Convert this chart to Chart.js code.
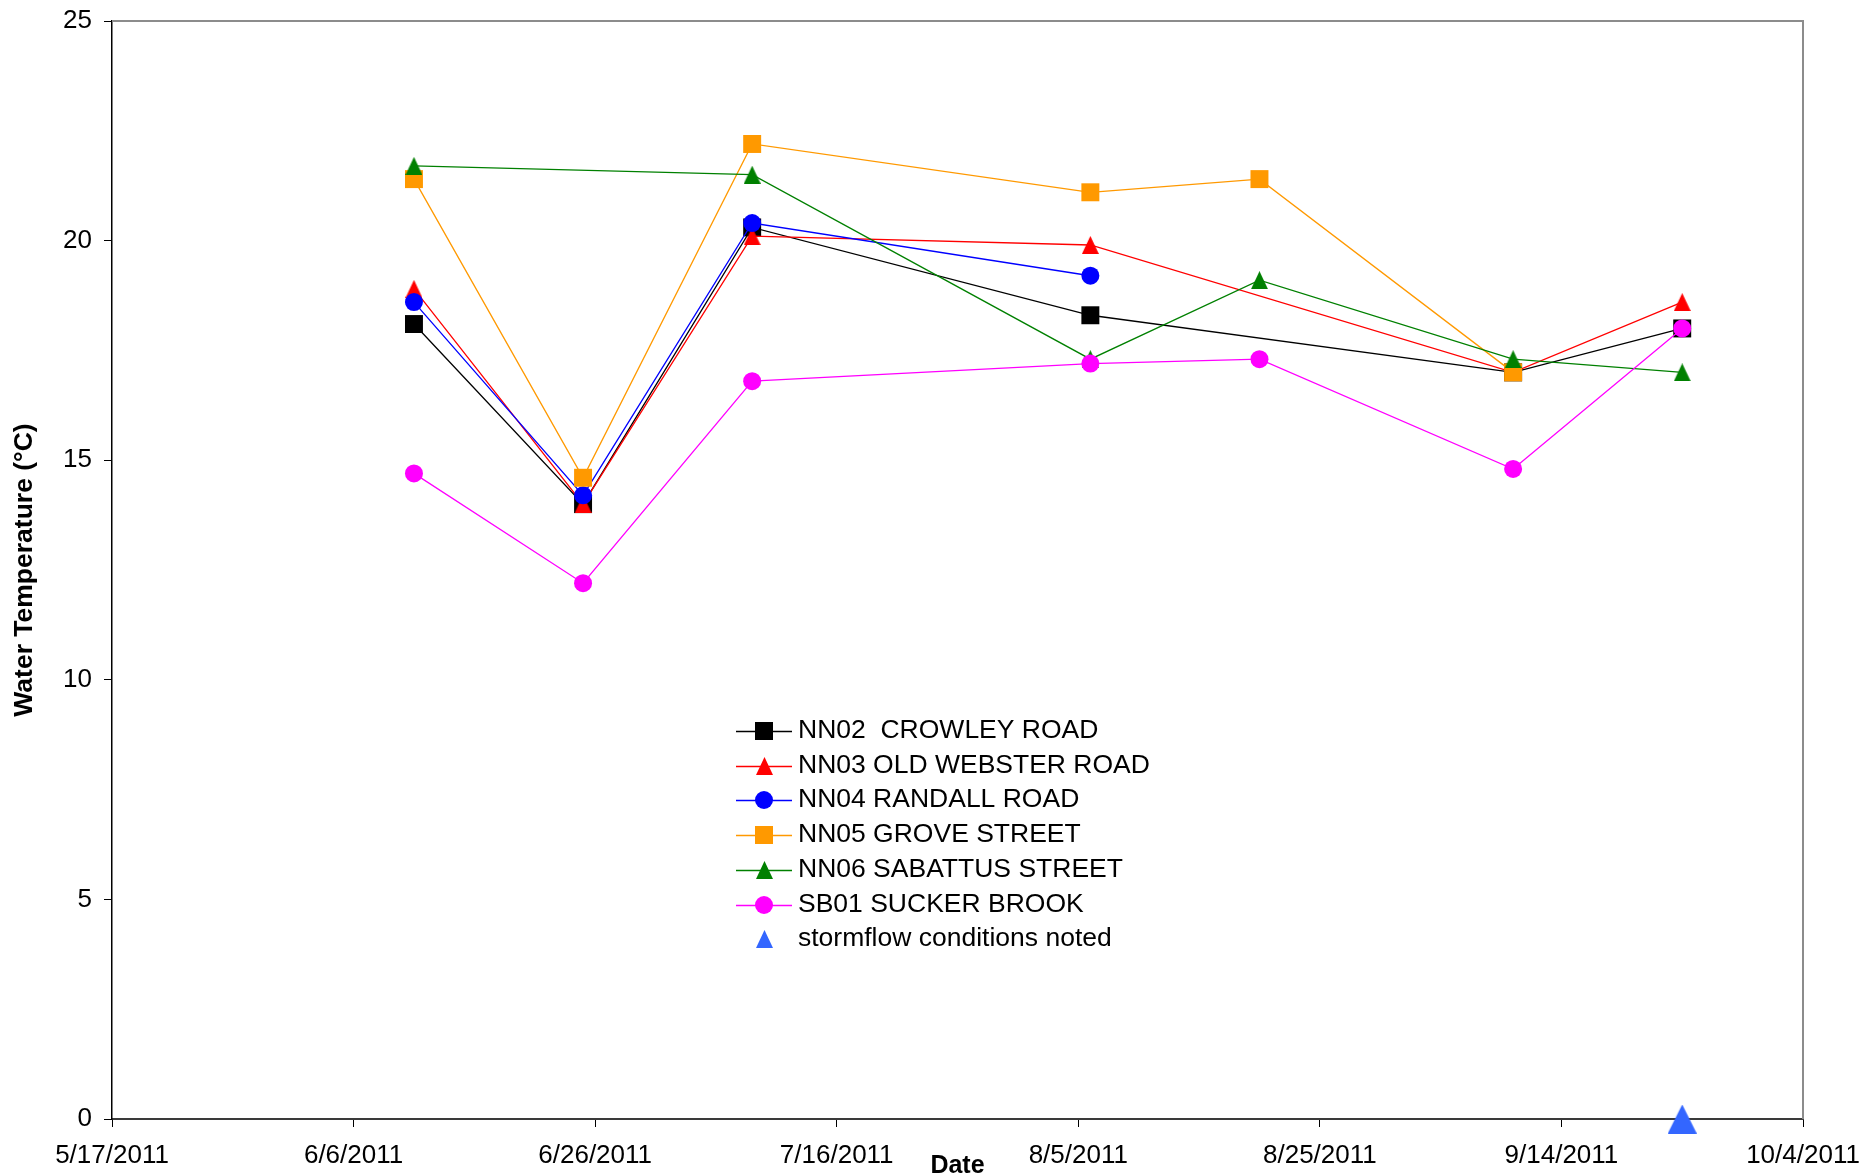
<!DOCTYPE html>
<html>
<head>
<meta charset="utf-8">
<title>Water Temperature 2011</title>
<script src="https://cdn.jsdelivr.net/npm/chart.js@4.4.1/dist/chart.umd.min.js"></script>
<style>
  html, body { margin: 0; padding: 0; background: #ffffff; }
  #wrap { width: 1866px; height: 1176px; }
</style>
</head>
<body>
<div id="wrap"><canvas id="c" width="1866" height="1176"></canvas></div>
<script>
// ---- data ----
const startDate = '5/17/2011';
const sampleDates = ['6/11/2011', '6/25/2011', '7/9/2011', '8/6/2011', '8/20/2011', '9/10/2011', '9/24/2011'];
const xTickLabels = ['5/17/2011', '6/6/2011', '6/26/2011', '7/16/2011', '8/5/2011', '8/25/2011', '9/14/2011', '10/4/2011'];

const nn02 = [18.1, 14.0, 20.3, 18.3, null, 17.0, 18.0];
const nn03 = [18.9, 14.0, 20.1, 19.9, null, 17.0, 18.6];
const nn04 = [18.6, 14.2, 20.4, 19.2, null, null, null];
const nn05 = [21.4, 14.6, 22.2, 21.1, 21.4, 17.0, null];
const nn06 = [21.7, null, 21.5, 17.3, 19.1, 17.3, 17.0];
const sb01 = [14.7, 12.2, 16.8, 17.2, 17.3, 14.8, 18.0];

const stormDates = ['9/24/2011'];
const stormValues = [0];

const seriesNames = [
  'NN02  CROWLEY ROAD',
  'NN03 OLD WEBSTER ROAD',
  'NN04 RANDALL ROAD',
  'NN05 GROVE STREET',
  'NN06 SABATTUS STREET',
  'SB01 SUCKER BROOK',
  'stormflow conditions noted'
];

// ---- helpers ----
const FONT = '"Liberation Sans", Arial, Helvetica, sans-serif';

function dayNumber(s) {
  const [m, d, y] = s.split('/').map(Number);
  return Date.UTC(y, m - 1, d) / 86400000;
}
const day0 = dayNumber(startDate);
const xDays = sampleDates.map(s => dayNumber(s) - day0);

function pairs(days, values) {
  return values.map((v, i) => ({ x: days[i], y: v }));
}

// Triangle marker filling its whole box (apex at top centre).
function triangleImage(color, w, h) {
  const c = document.createElement('canvas');
  c.width = w; c.height = h;
  const g = c.getContext('2d');
  g.fillStyle = color;
  g.beginPath();
  g.moveTo(w / 2, 0);
  g.lineTo(w, h);
  g.lineTo(0, h);
  g.closePath();
  g.fill();
  return c;
}

const colors = ['#000000', '#ff0000', '#0000ff', '#ff9900', '#008000', '#ff00ff', '#3366ff'];
const redTri = triangleImage(colors[1], 17, 18);
const greenTri = triangleImage(colors[4], 17, 18);
const stormTriSmall = triangleImage(colors[6], 17, 18);
const stormTriBig = triangleImage(colors[6], 29, 29);

function lineSeries(i, values, style, radius, legendMark) {
  return {
    label: seriesNames[i],
    data: pairs(xDays, values),
    borderColor: colors[i],
    backgroundColor: colors[i],
    borderWidth: 1.3,
    pointStyle: style,
    pointRadius: radius,
    pointHoverRadius: radius,
    pointBorderWidth: 0,
    pointBackgroundColor: colors[i],
    spanGaps: true,
    tension: 0,
    order: 7 - i,
    legendMark: legendMark
  };
}

const datasets = [
  lineSeries(0, nn02, 'rect', 12.7, { kind: 'square', size: 18 }),
  lineSeries(1, nn03, redTri, 9, { kind: 'image', img: redTri }),
  lineSeries(2, nn04, 'circle', 9, { kind: 'circle', r: 9 }),
  lineSeries(3, nn05, 'rect', 12.7, { kind: 'square', size: 18 }),
  lineSeries(4, nn06, greenTri, 9, { kind: 'image', img: greenTri }),
  lineSeries(5, sb01, 'circle', 9, { kind: 'circle', r: 9 }),
  {
    label: seriesNames[6],
    data: pairs(stormDates.map(s => dayNumber(s) - day0), stormValues),
    showLine: false,
    borderColor: colors[6],
    backgroundColor: colors[6],
    pointStyle: stormTriBig,
    pointRadius: 14,
    pointHoverRadius: 14,
    pointBorderWidth: 0,
    clip: false,
    order: 0,
    legendMark: { kind: 'image', img: stormTriSmall, noLine: true }
  }
];

// Grey frame on the top and right of the plot area.
const framePlugin = {
  id: 'plotFrame',
  beforeDatasetsDraw(chart) {
    const { ctx, chartArea: a } = chart;
    ctx.save();
    ctx.strokeStyle = '#8c8c8c';
    ctx.lineWidth = 2;
    ctx.beginPath();
    ctx.moveTo(a.left, a.top);
    ctx.lineTo(a.right, a.top);
    ctx.lineTo(a.right, a.bottom);
    ctx.stroke();
    ctx.restore();
  }
};

// Key drawn inside the plot: line + marker + label for each series.
const keyPlugin = {
  id: 'seriesKey',
  afterDatasetsDraw(chart) {
    const ctx = chart.ctx;
    const lineStart = 736, lineEnd = 792, markX = 764, textX = 798;
    const top = 731, row = 34.7;
    ctx.save();
    ctx.font = '26.5px ' + FONT;
    ctx.textBaseline = 'middle';
    ctx.textAlign = 'left';
    chart.data.datasets.forEach((ds, i) => {
      const y = Math.round(top + row * i);
      const mark = ds.legendMark;
      if (!mark.noLine) {
        ctx.strokeStyle = ds.borderColor;
        ctx.lineWidth = 1.3;
        ctx.beginPath();
        ctx.moveTo(lineStart, y + 0.5);
        ctx.lineTo(lineEnd, y + 0.5);
        ctx.stroke();
      }
      ctx.fillStyle = ds.backgroundColor;
      if (mark.kind === 'square') {
        ctx.fillRect(markX - mark.size / 2, y - mark.size / 2, mark.size, mark.size);
      } else if (mark.kind === 'circle') {
        ctx.beginPath();
        ctx.arc(markX, y, mark.r, 0, Math.PI * 2);
        ctx.fill();
      } else {
        ctx.drawImage(mark.img, Math.round(markX - mark.img.width / 2), Math.round(y - mark.img.height / 2));
      }
      ctx.fillStyle = '#000000';
      ctx.fillText(ds.label, textX, y);
    });
    ctx.restore();
  }
};

new Chart(document.getElementById('c'), {
  type: 'line',
  data: { datasets },
  options: {
    responsive: false,
    animation: false,
    events: [],
    layout: { padding: { top: 21, right: 63, left: 0, bottom: 0 } },
    plugins: {
      legend: { display: false },
      tooltip: { enabled: false }
    },
    scales: {
      x: {
        type: 'linear',
        min: 0,
        max: 140,
        afterFit(scale) {
          scale.height = 57;
          scale.paddingLeft = 0;
          scale.paddingRight = 0;
        },
        ticks: {
          stepSize: 20,
          autoSkip: false,
          maxRotation: 0,
          padding: 13,
          color: '#000000',
          font: { family: FONT, size: 26 },
          callback: (v, i) => xTickLabels[i]
        },
        grid: {
          display: true,
          drawOnChartArea: false,
          drawTicks: true,
          tickLength: 8,
          color: '#000000',
          lineWidth: 1
        },
        border: { display: true, color: '#3a3a3a', width: 2 },
        title: {
          display: true,
          text: 'Date',
          color: '#000000',
          font: { family: FONT, size: 25, weight: 'bold', lineHeight: 1 },
          padding: { top: 0, bottom: -3 }
        }
      },
      y: {
        type: 'linear',
        min: 0,
        max: 25,
        afterFit(scale) {
          scale.width = 112;
          scale.paddingTop = 0;
          scale.paddingBottom = 0;
        },
        ticks: {
          stepSize: 5,
          padding: 12,
          color: '#000000',
          font: { family: FONT, size: 26 }
        },
        grid: {
          display: true,
          drawOnChartArea: false,
          drawTicks: true,
          tickLength: 8,
          color: '#000000',
          lineWidth: 1
        },
        border: { display: true, color: '#000000', width: 1.5 },
        title: {
          display: true,
          text: 'Water Temperature (°C)',
          color: '#000000',
          font: { family: FONT, size: 26.5, weight: 'bold', lineHeight: 1 },
          padding: { top: 11, bottom: 0 }
        }
      }
    }
  },
  plugins: [framePlugin, keyPlugin]
});
</script>
</body>
</html>
